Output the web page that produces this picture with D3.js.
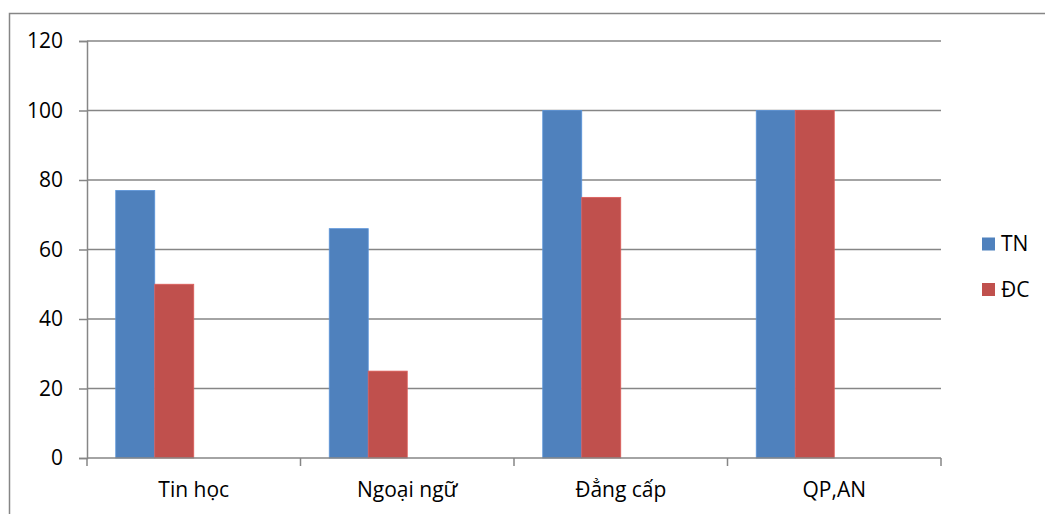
<!DOCTYPE html>
<html>
<head>
<meta charset="utf-8">
<script src="https://cdn.jsdelivr.net/npm/d3@7"></script>
<style>
  html, body { margin: 0; padding: 0; background: #fff; }
  svg { display: block; }
  text { font-family: "Open Sans", "Noto Sans", sans-serif; fill: #000; }
</style>
</head>
<body>
<svg id="chart" width="1045" height="514"></svg>
<script>
// Subjects shown along the x axis
const categories = ["Tin học", "Ngoại ngữ", "Đẳng cấp", "QP,AN"];
// Series names and values (percent)
const seriesNames = ["TN", "ĐC"];
const valuesTN = [77, 66, 100, 100];
const valuesDC = [50, 25, 75, 100];
const yTicks = [0, 20, 40, 60, 80, 100, 120];
const colors = ["#4F81BD", "#C0504D"];

const FONT = 21;
const svg = d3.select("#chart");
const plot = { left: 87, right: 941, top: 41, bottom: 458 };

// Outer chart frame
svg.append("rect")
  .attr("x", 9.5).attr("y", 13.5)
  .attr("width", 1100).attr("height", 600)
  .attr("fill", "none").attr("stroke", "#868686").attr("stroke-width", 1.5);

const x = d3.scaleBand().domain(categories).range([plot.left, plot.right]);
// four slots per group: two drawn series plus two empty ones
const slot = d3.scaleBand().domain([0, 1, 2, 3]).range([0, x.bandwidth()])
  .paddingOuter(0.737).paddingInner(0);
const y = d3.scaleLinear().domain([0, 120]).range([plot.bottom, plot.top]);

// Horizontal gridlines
svg.append("g").selectAll("line").data(yTicks.filter(d => d > 0)).join("line")
  .attr("x1", plot.left).attr("x2", plot.right)
  .attr("y1", d => y(d)).attr("y2", d => y(d))
  .attr("stroke", "#868686").attr("stroke-width", 1.5);

// Bars
const series = [valuesTN, valuesDC];
series.forEach((vals, si) => {
  svg.append("g").selectAll("rect").data(categories).join("rect")
    .attr("x", c => x(c) + slot(si))
    .attr("width", slot.bandwidth())
    .attr("y", (c, i) => y(vals[i]))
    .attr("height", (c, i) => y(0) - y(vals[i]))
    .attr("fill", colors[si])
    .attr("stroke", d3.color(colors[si]).brighter(0.4))
    .attr("stroke-width", 0.8);
});

// Y axis
const yAxis = svg.append("g")
  .attr("transform", `translate(${plot.left},0)`)
  .call(d3.axisLeft(y).tickValues(yTicks).tickSize(8).tickPadding(16));
yAxis.select(".domain").attr("stroke", "#868686").attr("stroke-width", 1.5);
yAxis.selectAll(".tick line").attr("stroke", "#868686").attr("stroke-width", 1.5);
yAxis.selectAll("text").attr("font-size", FONT).attr("font-family", "Open Sans, sans-serif").attr("fill", "#000");

// X axis with ticks at group boundaries
const xAxis = svg.append("g").attr("transform", `translate(0,${plot.bottom})`);
xAxis.append("line").attr("x1", plot.left).attr("x2", plot.right)
  .attr("stroke", "#868686").attr("stroke-width", 1.5);
const bounds = categories.map(c => x(c)).concat([plot.right]);
xAxis.selectAll("line.tk").data(bounds).join("line").attr("class", "tk")
  .attr("x1", d => d).attr("x2", d => d).attr("y1", 0).attr("y2", 8)
  .attr("stroke", "#868686").attr("stroke-width", 1.5);
xAxis.selectAll("text").data(categories).join("text")
  .attr("x", c => x(c) + x.bandwidth() / 2)
  .attr("y", 39)
  .attr("text-anchor", "middle")
  .attr("font-size", FONT)
  .text(c => c);

// Legend
const legend = svg.append("g");
seriesNames.forEach((name, i) => {
  const cy = 244 + i * 45.5;
  legend.append("rect").attr("x", 982).attr("y", cy - 6.5)
    .attr("width", 13).attr("height", 13).attr("fill", colors[i]);
  legend.append("text").attr("x", 1001).attr("y", cy)
    .attr("dy", "0.35em").attr("font-size", FONT).text(name);
});
</script>
</body>
</html>
